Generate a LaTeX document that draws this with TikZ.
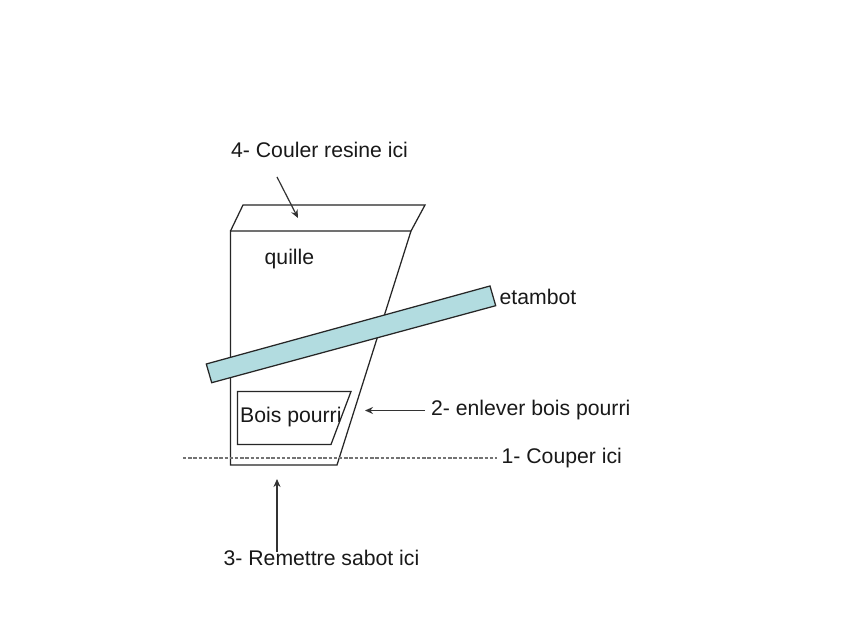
\documentclass[tikz,border=0pt]{standalone}
\usepackage{fontspec}
\setmainfont{Liberation Sans}
\usetikzlibrary{arrows.meta}
\definecolor{etamb}{RGB}{178,220,224}
\tikzset{
  x=1pt,y=-1pt,
  outline/.style={draw=black!85,line width=1.25pt,line join=miter},
  lbl/.style={inner sep=0pt,anchor=base west,text=black!90,font=\fontsize{21.2}{25}\selectfont},
  pointer/.style={draw=black!80,line width=1.2pt,-{Stealth[length=8pt,width=7pt]}},
  cutline/.style={draw=black!55,line width=1.1pt,dash pattern=on 3.4pt off 1.8pt}
}
\begin{document}
\begin{tikzpicture}
\useasboundingbox (0,0) rectangle (849,636);
\fill[white] (0,0) rectangle (849,636);
% quille
\draw[outline] (230.5,231) -- (411,231) -- (337,465) -- (230.5,465) -- cycle;
\draw[outline] (230.5,231) -- (243,205) -- (425,205) -- (411,231);
% etambot
\draw[outline,fill=etamb] (206.3,364) -- (490,286) -- (495.7,305.7) -- (211.7,382.7) -- cycle;
% bois pourri
\draw[outline] (237.5,391.5) -- (351,391.5) -- (331,444.5) -- (237.5,444.5) -- cycle;
\node[lbl] (bois) at (240,422.5) {Bois pourri};
\node[lbl] (quille) at (264.5,265) {quille};
\node[lbl] (etambot) at (499.5,304.5) {etambot};
\node[lbl] (l4) at (231,157.5) {4- Couler resine ici};
\node[lbl] (l2) at (431,415) {2- enlever bois pourri};
\node[lbl] (l1) at (501.5,463) {1- Couper ici};
\node[lbl] (l3) at (223.5,565) {3- Remettre sabot ici};
% connectors
\coordinate (a4s) at (277,177);
\coordinate (a4e) at (298,218);
\coordinate (a2s) at (425,410.5);
\coordinate (a2e) at (365,410.5);
\coordinate (a3s) at (277,552);
\coordinate (a3e) at (277,479);
\coordinate (cs) at (183,458);
\coordinate (ce) at (497,458);
\draw[pointer] (a4s) -- (a4e);
\draw[pointer] (a2s) -- (a2e);
\draw[pointer] (a3s) -- (a3e);
\draw[cutline] (cs) -- (ce);
\end{tikzpicture}
\end{document}
